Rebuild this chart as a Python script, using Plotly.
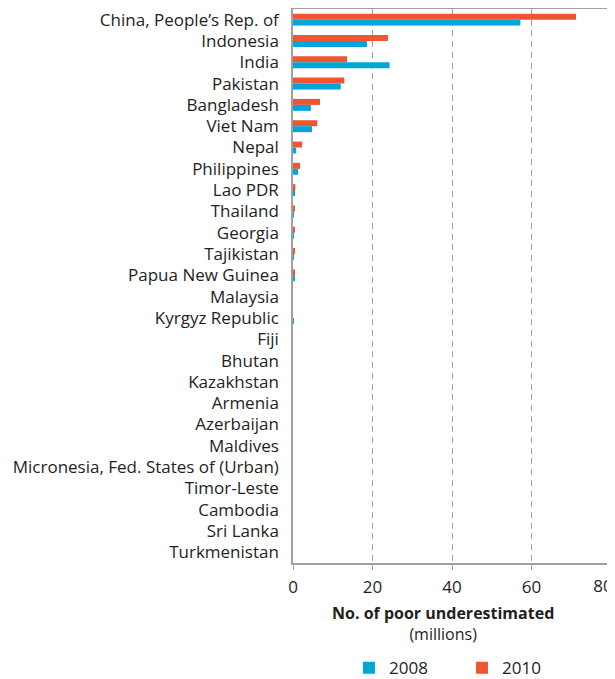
import plotly.graph_objects as go

countries = ["China, People’s Rep. of", "Indonesia", "India", "Pakistan", "Bangladesh",
             "Viet Nam", "Nepal", "Philippines", "Lao PDR", "Thailand", "Georgia",
             "Tajikistan", "Papua New Guinea", "Malaysia", "Kyrgyz Republic", "Fiji",
             "Bhutan", "Kazakhstan", "Armenia", "Azerbaijan", "Maldives",
             "Micronesia, Fed. States of (Urban)", "Timor-Leste", "Cambodia",
             "Sri Lanka", "Turkmenistan"]
v2008 = [57.2, 18.6, 24.3, 12.0, 4.5, 4.8, 0.8, 1.3, 0.5, 0.1, 0.05, 0.1, 0.3, 0.0,
         0.1, 0.0, 0.0, 0.0, 0.0, 0.0, 0.0, 0.0, 0.0, 0.0, 0.0, 0.0]
v2010 = [71.2, 23.9, 13.6, 12.9, 6.8, 6.1, 2.3, 1.8, 0.6, 0.5, 0.3, 0.3, 0.3, 0.0,
         0.0, 0.0, 0.0, 0.0, 0.0, 0.0, 0.0, 0.0, 0.0, 0.0, 0.0, 0.0]
xticks = [0, 20, 40, 60, 80]

BLUE = "#00A6D8"
RED = "#EE5530"
FONT = "Open Sans"
TXT = "#231F20"
XRANGE = [xticks[0], xticks[-1]]

fig = go.Figure()
fig.add_trace(go.Bar(y=countries, x=v2010, orientation="h", name="2010",
                     marker=dict(color=RED, line=dict(width=0))))
fig.add_trace(go.Bar(y=countries, x=v2008, orientation="h", name="2008",
                     marker=dict(color=BLUE, line=dict(width=0))))
# empty helper trace so the overlaying axis (carrying the last tick label) is drawn
fig.add_trace(go.Scatter(x=[], y=[], xaxis="x2", yaxis="y", showlegend=False,
                         hoverinfo="skip", mode="markers"))

tick_common = dict(ticks="outside", ticklen=5, tickcolor="#A0A0A0",
                   tickfont=dict(size=17, family=FONT, color=TXT),
                   zeroline=False, ticklabelstandoff=3, automargin=False)

fig.update_layout(
    width=607, height=671,
    margin=dict(l=285, r=4, t=1, b=116, autoexpand=False),
    paper_bgcolor="white", plot_bgcolor="white",
    barmode="group", bargap=0.44, bargroupgap=0,
    font=dict(family=FONT, color=TXT),
    showlegend=True,
    legend=dict(orientation="h", traceorder="reversed", x=0.176, xanchor="left",
                y=-0.19, yanchor="middle", yref="paper",
                font=dict(size=17, family=FONT, color=TXT),
                itemwidth=30, entrywidth=68, entrywidthmode="pixels"),
    xaxis=dict(range=XRANGE, tickvals=xticks[:-1], ticktext=[str(t) for t in xticks[:-1]],
               showgrid=True, gridcolor="#A0A0A0", griddash="6px,4.7px", gridwidth=1,
               showline=True, linecolor="#A0A0A0", linewidth=1.5, mirror=True,
               **tick_common),
    # last tick label sits slightly left of its tick so it stays on the page
    xaxis2=dict(overlaying="x", anchor="y", side="bottom", range=XRANGE,
                tickvals=xticks[-1:], ticktext=[str(t) for t in xticks[-1:]],
                showgrid=False, showline=False, ticklabelshift=-8, **tick_common),
    yaxis=dict(autorange="reversed", showline=True, linecolor="#A0A0A0", linewidth=1.5,
               mirror=True, ticks="", showgrid=False,
               tickfont=dict(size=17, family=FONT, color=TXT),
               ticklabelstandoff=9, automargin=False),
    annotations=[
        dict(text="<b>No. of poor underestimated</b><br>(millions)", x=0.473, xref="paper",
             y=-0.110, yref="paper", yanchor="middle", xanchor="center", showarrow=False,
             font=dict(size=16, family=FONT, color=TXT), align="center")
    ],
)

fig.write_html("out.html")
